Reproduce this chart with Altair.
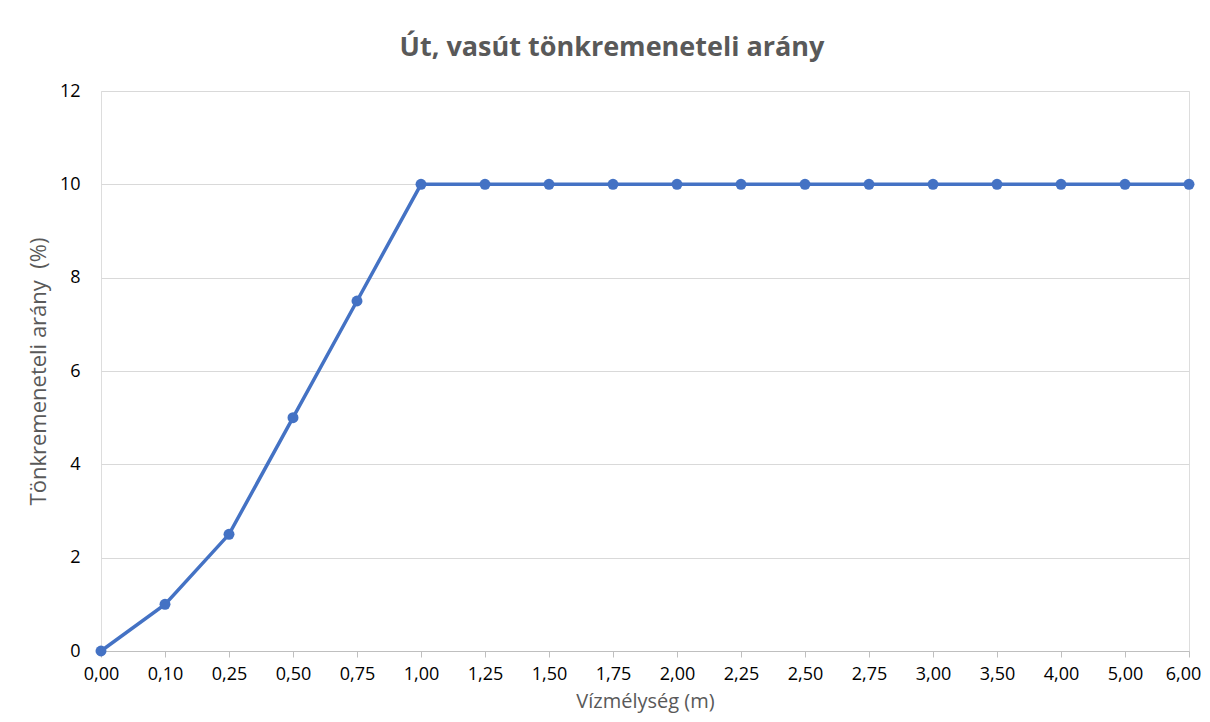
import altair as alt
import pandas as pd

x_labels = ["0,00", "0,10", "0,25", "0,50", "0,75", "1,00", "1,25", "1,50", "1,75",
            "2,00", "2,25", "2,50", "2,75", "3,00", "3,50", "4,00", "5,00", "6,00"]
y_values = [0, 1, 2.5, 5, 7.5, 10, 10, 10, 10, 10, 10, 10, 10, 10, 10, 10, 10, 10]

df = pd.DataFrame({"depth": x_labels, "ratio": y_values})

x_enc = alt.X(
    "depth:N",
    sort=x_labels,
    scale=alt.Scale(type="point", padding=0),
    axis=alt.Axis(
        title="Vízmélység (m)",
        labelAngle=0,
        labelFontSize=18,
        labelColor="#000000",
        labelFont="Open Sans",
        labelPadding=8,
        labelOffset=alt.ExprRef("datum.label == '6,00' ? -6 : 0"),
        titleFont="Open Sans",
        titleFontSize=20,
        titleFontWeight="normal",
        titleColor="#595959",
        titlePadding=8,
        domainColor="#BFBFBF",
        domainWidth=1,
        tickColor="#BFBFBF",
        tickSize=6,
        grid=False,
    ),
)
y_enc = alt.Y(
    "ratio:Q",
    scale=alt.Scale(domain=[0, 12], nice=False),
    axis=alt.Axis(
        title="Tönkremeneteli arány\u00a0 (%)",
        values=[0, 2, 4, 6, 8, 10, 12],
        labelFontSize=18,
        labelColor="#000000",
        labelFont="Open Sans",
        labelPadding=21,
        titleFont="Open Sans",
        titleFontSize=22,
        titleFontWeight="normal",
        titleColor="#595959",
        titlePadding=9,
        domain=False,
        ticks=False,
        gridColor="#D9D9D9",
        gridWidth=1,
    ),
)

line = alt.Chart(df).mark_line(color="#4472C4", strokeWidth=3.5).encode(x=x_enc, y=y_enc)
points = alt.Chart(df).mark_point(filled=True, color="#4472C4", size=120, opacity=1).encode(x=x_enc, y=y_enc)

chart = (
    alt.layer(line, points)
    .properties(
        width=1088,
        height=560,
        autosize=alt.AutoSizeParams(type="none"),
        padding={"left": 93, "top": 83, "right": 13, "bottom": 63},
        title=alt.TitleParams(
            text="Út, vasút tönkremeneteli arány",
            font="Open Sans",
            fontSize=27,
            fontWeight="bold",
            color="#595959",
            anchor="middle",
            offset=20,
            dx=-33,
        ),
    )
    .configure_view(stroke="transparent")
    .configure(background="white")
)

chart.save("out.html", embed_options={"renderer": "svg", "actions": False})
